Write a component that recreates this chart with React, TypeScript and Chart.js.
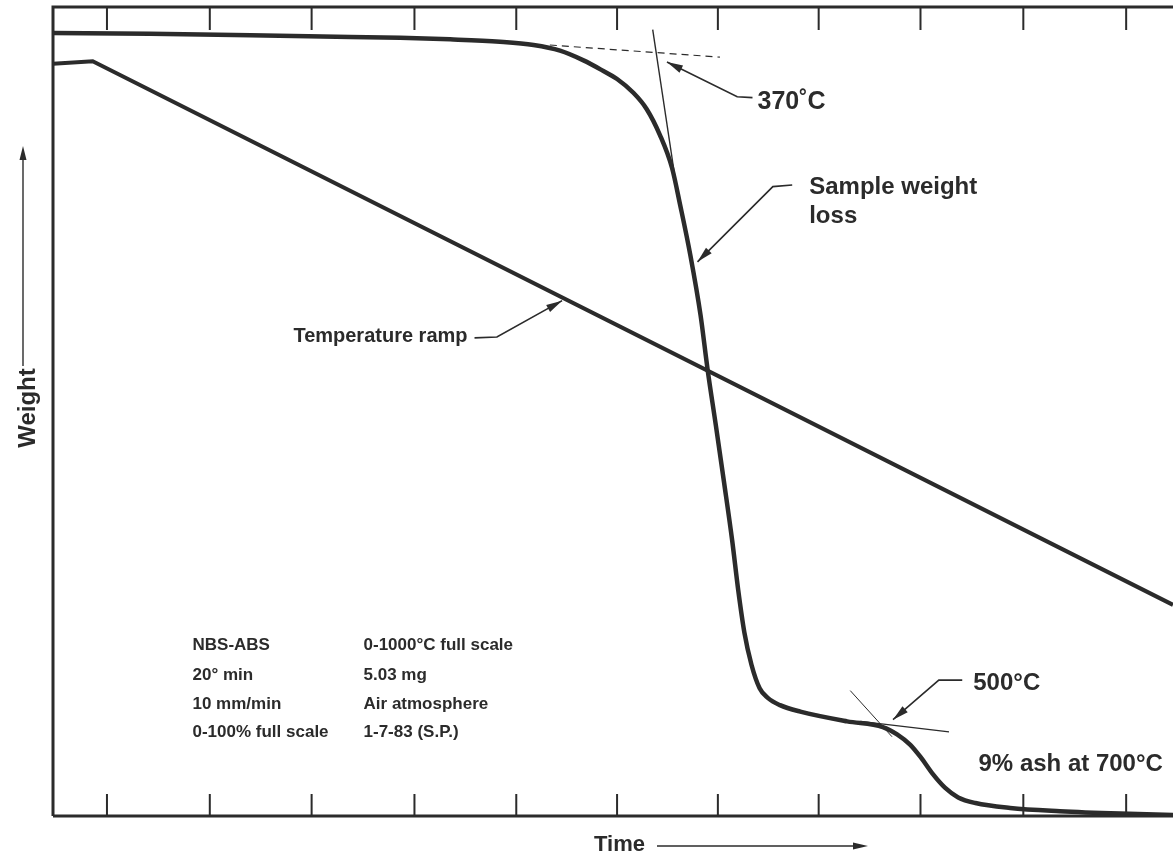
import React, { useEffect, useRef } from "react";
import { Chart, registerables } from "chart.js";

Chart.register(...registerables);

// ---- data (time in arbitrary chart units, signal in % of full scale) ----
const timeValues = [
  0, 9.5, 19.4, 29.2, 34.1, 39.0, 43.9, 47.2, 49.8, 52.1, 53.9, 55.4, 57.0, 58.3,
  59.6, 60.8, 61.6, 62.6, 63.6, 64.3, 65.1, 65.9, 66.7, 67.3, 67.9, 68.6, 69.4,
  70.2, 71.4, 73.4, 78.0, 81.5, 82.9, 84.2, 85.2, 86.4, 87.6, 88.9, 90.6, 94.0,
  98.9, 104.8, 110,
];
const weightValues = [
  96.8, 96.7, 96.5, 96.3, 96.2, 96.0, 95.7, 95.3, 94.6, 93.4, 92.2, 91.1, 89.4, 87.4,
  84.2, 80.1, 75.5, 69.3, 61.9, 55.1, 48.3, 41.3, 34.1, 27.9, 22.7, 18.7, 15.8,
  14.6, 13.7, 12.9, 11.7, 11.0, 10.1, 8.8, 7.3, 5.2, 3.5, 2.3, 1.6, 1.0,
  0.6, 0.3, 0.12,
];

const rampTime = [0, 3.9, 110];
const rampValues = [93.0, 93.3, 26.1];

const onsetBaselineTime = [48.8, 65.5];
const onsetBaselineValues = [95.3, 93.8];
const onsetTangentTime = [58.9, 61.2];
const onsetTangentValues = [97.2, 78.0];

const ashBaselineTime = [79.3, 88.0];
const ashBaselineValues = [11.7, 10.4];
const ashTangentTime = [78.3, 82.4];
const ashTangentValues = [15.5, 9.8];

const topTicks = [5.3, 15.4, 25.4, 35.5, 45.5, 55.4, 65.3, 75.2, 85.2, 95.3, 105.4];
const bottomTicks = [5.3, 15.4, 25.4, 35.5, 45.5, 55.4, 65.3, 75.2, 85.2, 95.3, 105.4];

const infoLeft = ["NBS-ABS", "20° min", "10 mm/min", "0-100% full scale"];
const infoRight = ["0-1000°C full scale", "5.03 mg", "Air atmosphere", "1-7-83 (S.P.)"];
const infoRowValues = [21.1, 17.4, 13.8, 10.3];
const infoColTimes = [13.7, 30.5];

// callouts: [tip, elbow, end] in (time, value)
const callout370Time = [60.3, 67.2, 68.7];
const callout370Values = [93.2, 88.9, 88.8];
const calloutLossTime = [63.3, 70.7, 72.6];
const calloutLossValues = [68.5, 77.8, 78.0];
const calloutRampTime = [50.0, 43.6, 41.4];
const calloutRampValues = [63.7, 59.2, 59.1];
const callout500Time = [82.5, 87.0, 89.3];
const callout500Values = [11.9, 16.8, 16.8];
const ashLabelTime = 90.9;
const ashLabelValue = 6.4;

const INK = "#2b2b2b";
const FONT = '"Liberation Sans", Arial, Helvetica, sans-serif';

function pts(xs: number[], ys: number[]) {
  return xs.map((x, i) => ({ x, y: ys[i] }));
}

function arrowHead(ctx: CanvasRenderingContext2D, tx: number, ty: number, fx: number, fy: number, len: number, half: number) {
  const a = Math.atan2(ty - fy, tx - fx);
  ctx.beginPath();
  ctx.moveTo(tx, ty);
  ctx.lineTo(tx - len * Math.cos(a) + half * Math.sin(a), ty - len * Math.sin(a) - half * Math.cos(a));
  ctx.lineTo(tx - len * Math.cos(a) - half * Math.sin(a), ty - len * Math.sin(a) + half * Math.cos(a));
  ctx.closePath();
  ctx.fill();
}

const decorPlugin = {
  id: "decor",
  afterDatasetsDraw(chart: any) {
    const ctx: CanvasRenderingContext2D = chart.ctx;
    const xs = chart.scales.x;
    const ys = chart.scales.y;
    const px = (v: number) => xs.getPixelForValue(v);
    const py = (v: number) => ys.getPixelForValue(v);
    const { left, right, top, bottom } = chart.chartArea;
    ctx.save();
    ctx.strokeStyle = INK;
    ctx.fillStyle = INK;
    ctx.lineCap = "butt";

    // frame
    ctx.lineWidth = 3;
    ctx.beginPath();
    ctx.moveTo(left, bottom);
    ctx.lineTo(left, top);
    ctx.lineTo(right + 5, top);
    ctx.moveTo(left, bottom);
    ctx.lineTo(right + 5, bottom);
    ctx.stroke();

    // ticks
    ctx.lineWidth = 2;
    ctx.beginPath();
    topTicks.forEach((t) => {
      ctx.moveTo(px(t), top);
      ctx.lineTo(px(t), top + 23);
    });
    bottomTicks.forEach((t) => {
      ctx.moveTo(px(t), bottom);
      ctx.lineTo(px(t), bottom - 22);
    });
    ctx.stroke();

    // callouts
    const callout = (tx: number[], tv: number[]) => {
      const p = tx.map((x, i) => [px(x), py(tv[i])]);
      ctx.lineWidth = 1.6;
      ctx.beginPath();
      ctx.moveTo(p[2][0], p[2][1]);
      ctx.lineTo(p[1][0], p[1][1]);
      ctx.lineTo(p[0][0], p[0][1]);
      ctx.stroke();
      arrowHead(ctx, p[0][0], p[0][1], p[1][0], p[1][1], 16, 4);
    };
    callout(callout370Time, callout370Values);
    callout(calloutLossTime, calloutLossValues);
    callout(calloutRampTime, calloutRampValues);
    callout(callout500Time, callout500Values);

    // labels
    ctx.textBaseline = "middle";
    ctx.textAlign = "left";
    ctx.font = `bold 25px ${FONT}`;
    ctx.fillText("370˚C", px(callout370Time[2]) + 5, py(callout370Values[2]) + 5);
    ctx.font = `bold 24px ${FONT}`;
    ctx.fillText("Sample weight", px(calloutLossTime[2]) + 17, py(calloutLossValues[2]) + 2);
    ctx.fillText("loss", px(calloutLossTime[2]) + 17, py(calloutLossValues[2]) + 31);
    ctx.fillText("500°C", px(callout500Time[2]) + 11, py(callout500Values[2]) + 3);
    ctx.fillText("9% ash at 700°C", px(ashLabelTime), py(ashLabelValue));
    ctx.textAlign = "right";
    ctx.font = `bold 20px ${FONT}`;
    ctx.fillText("Temperature ramp", px(calloutRampTime[2]) - 7, py(calloutRampValues[2]) - 1);

    // info block
    ctx.textAlign = "left";
    ctx.font = `bold 17px ${FONT}`;
    infoRowValues.forEach((v, i) => {
      ctx.fillText(infoLeft[i], px(infoColTimes[0]), py(v));
      ctx.fillText(infoRight[i], px(infoColTimes[1]), py(v));
    });

    // axis titles
    ctx.font = `bold 22px ${FONT}`;
    ctx.textAlign = "left";
    const ty = bottom + 29;
    ctx.fillText("Time", 594, ty);
    ctx.lineWidth = 1.4;
    ctx.beginPath();
    ctx.moveTo(657, ty + 1);
    ctx.lineTo(860, ty + 1);
    ctx.stroke();
    arrowHead(ctx, 868, ty + 1, 820, ty + 1, 15, 3.5);

    ctx.save();
    ctx.font = `bold 24px ${FONT}`;
    ctx.translate(28, 408);
    ctx.rotate(-Math.PI / 2);
    ctx.textAlign = "center";
    ctx.fillText("Weight", 0, 0);
    ctx.restore();
    ctx.beginPath();
    ctx.moveTo(23, 366);
    ctx.lineTo(23, 156);
    ctx.stroke();
    arrowHead(ctx, 23, 146, 23, 186, 14, 3.5);

    ctx.restore();
  },
};

export default function App() {
  const ref = useRef<HTMLCanvasElement | null>(null);
  useEffect(() => {
    if (!ref.current) return;
    const chart = new Chart(ref.current, {
      type: "line",
      data: {
        datasets: [
          {
            label: "Sample weight",
            data: pts(timeValues, weightValues),
            borderColor: INK,
            borderWidth: 4.5,
            pointRadius: 0,
            cubicInterpolationMode: "monotone",
            fill: false,
          },
          {
            label: "Temperature ramp",
            data: pts(rampTime, rampValues),
            borderColor: INK,
            borderWidth: 4,
            pointRadius: 0,
            tension: 0,
            fill: false,
          },
          {
            label: "Onset baseline",
            data: pts(onsetBaselineTime, onsetBaselineValues),
            borderColor: INK,
            borderWidth: 1.2,
            borderDash: [7, 5],
            pointRadius: 0,
            fill: false,
          },
          {
            label: "Onset tangent",
            data: pts(onsetTangentTime, onsetTangentValues),
            borderColor: INK,
            borderWidth: 1.4,
            pointRadius: 0,
            fill: false,
          },
          {
            label: "Ash baseline",
            data: pts(ashBaselineTime, ashBaselineValues),
            borderColor: INK,
            borderWidth: 1.4,
            pointRadius: 0,
            fill: false,
          },
          {
            label: "Ash tangent",
            data: pts(ashTangentTime, ashTangentValues),
            borderColor: INK,
            borderWidth: 1,
            pointRadius: 0,
            fill: false,
          },
        ],
      },
      options: {
        animation: false,
        responsive: true,
        maintainAspectRatio: false,
        layout: { padding: { left: 53, top: 7, right: 0, bottom: 46 } },
        plugins: { legend: { display: false }, tooltip: { enabled: false } },
        scales: {
          x: { type: "linear", display: false, min: 0, max: 110 },
          y: { type: "linear", display: false, min: 0, max: 100 },
        },
      },
      plugins: [decorPlugin],
    });
    return () => chart.destroy();
  }, []);
  return (
    <div style={{ position: "fixed", left: 0, top: 0, width: 1173, height: 862, background: "#fff" }}>
      <canvas ref={ref} />
    </div>
  );
}
